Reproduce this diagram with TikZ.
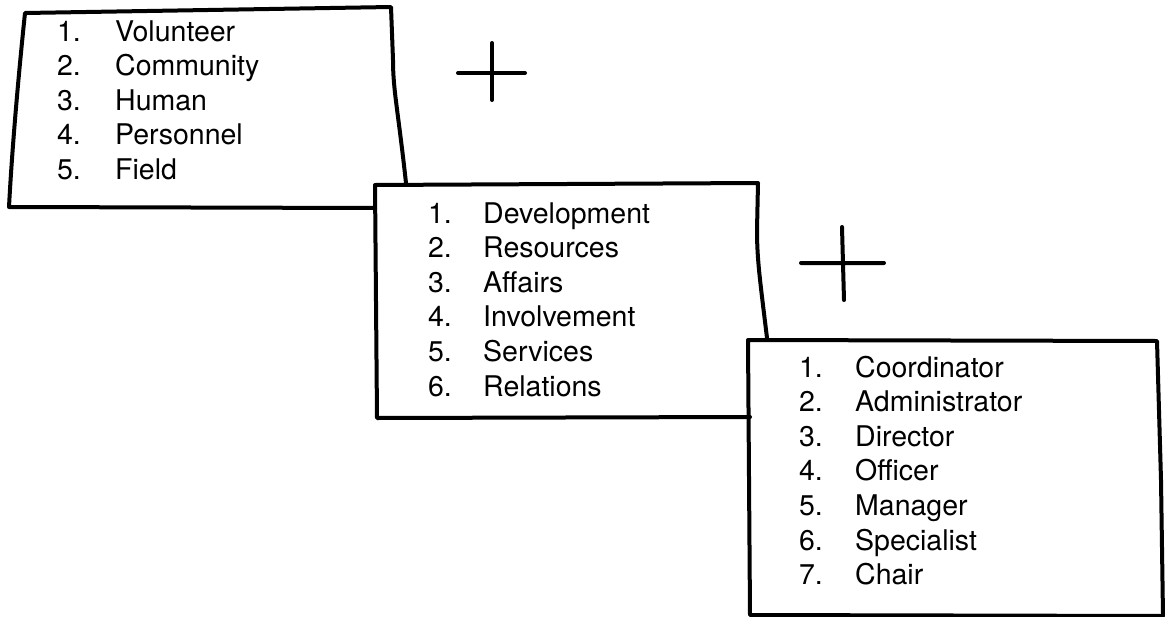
\documentclass[tikz,border=0pt]{standalone}
\usepackage{fontspec}
\setmainfont{TeX Gyre Heros}
\usetikzlibrary{positioning}
\tikzset{
  item/.style={inner sep=0pt, text height=2ex, text depth=0.5ex,
    font=\fontsize{28.5}{34}\selectfont},
  sketch/.style={line width=4pt, line cap=round, line join=round},
}

\begin{document}
\begin{tikzpicture}[x=1pt,y=-1pt,node distance=34.6pt]
\useasboundingbox (0,0) rectangle (1165,616);
%%First place the words of the three lists
\node[item,anchor=base west] (v1) at (115,41) {Volunteer};
\node[item,below=of v1.west,anchor=west] (v2) {Community};
\node[item,below=of v2.west,anchor=west] (v3) {Human};
\node[item,below=of v3.west,anchor=west] (v4) {Personnel};
\node[item,below=of v4.west,anchor=west] (v5) {Field};
\node[item,anchor=base west] (d1) at (483,223) {Development};
\node[item,below=of d1.west,anchor=west] (d2) {Resources};
\node[item,below=of d2.west,anchor=west] (d3) {Affairs};
\node[item,below=of d3.west,anchor=west] (d4) {Involvement};
\node[item,below=of d4.west,anchor=west] (d5) {Services};
\node[item,below=of d5.west,anchor=west] (d6) {Relations};
\node[item,anchor=base west] (c1) at (855,377) {Coordinator};
\node[item,below=of c1.west,anchor=west] (c2) {Administrator};
\node[item,below=of c2.west,anchor=west] (c3) {Director};
\node[item,below=of c3.west,anchor=west] (c4) {Officer};
\node[item,below=of c4.west,anchor=west] (c5) {Manager};
\node[item,below=of c5.west,anchor=west] (c6) {Specialist};
\node[item,below=of c6.west,anchor=west] (c7) {Chair};
%%Then the numbers in front of them
\node[item,left=34pt of v1] {1.};
\node[item,left=34pt of v2] {2.};
\node[item,left=34pt of v3] {3.};
\node[item,left=34pt of v4] {4.};
\node[item,left=34pt of v5] {5.};
\node[item,left=31pt of d1] {1.};
\node[item,left=31pt of d2] {2.};
\node[item,left=31pt of d3] {3.};
\node[item,left=31pt of d4] {4.};
\node[item,left=31pt of d5] {5.};
\node[item,left=31pt of d6] {6.};
\node[item,left=32pt of c1] {1.};
\node[item,left=32pt of c2] {2.};
\node[item,left=32pt of c3] {3.};
\node[item,left=32pt of c4] {4.};
\node[item,left=32pt of c5] {5.};
\node[item,left=32pt of c6] {6.};
\node[item,left=32pt of c7] {7.};
%%Draw the three sketched boxes
\draw[sketch] (406,183) .. controls (398,110) and (393,90) .. (393,60)
  -- (391,7) -- (25,13) .. controls (18,80) and (12,150) .. (9,207)
  -- (375,208);
\draw[sketch] (767,338) .. controls (760,280) and (757,260) .. (757,230)
  -- (758,183) -- (375,185) -- (377,418) -- (750,417);
\draw[sketch] (748,340) -- (1157,341) -- (1161,480) -- (1163,616)
  -- (750,615) -- cycle;
%%Draw the two plus signs
\draw[sketch] (492,43) -- (492,100) (458,73) -- (525,73);
\draw[sketch] (842,227) -- (844,300) (801,263) -- (884,263);
\end{tikzpicture}
\end{document}
